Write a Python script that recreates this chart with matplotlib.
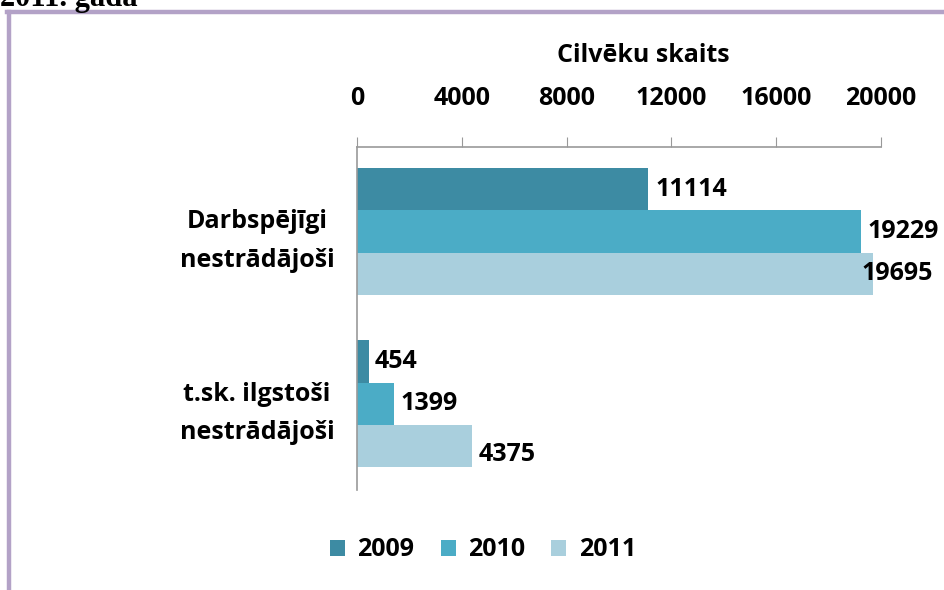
import matplotlib
matplotlib.use('Agg')
import matplotlib.pyplot as plt
from matplotlib.lines import Line2D
import numpy as np

#----------------------------
#          DATA
#----------------------------
categories = ['Darbspējīgi\nnestrādājoši', 't.sk. ilgstoši\nnestrādājoši']
years = ['2009', '2010', '2011']
v2009 = [11114, 454]
v2010 = [19229, 1399]
v2011 = [19695, 4375]
xticks = [0, 4000, 8000, 12000, 16000, 20000]

colors = ['#3d8ba3', '#4bacc6', '#a9cfdd']
# label offsets (points) for each series, per category
lab_dx = [[5, 4], [5, 5], [-8, 5]]
lab_dy = [[0, 0], [0, 0], [0, -6]]

plt.rcParams['font.family'] = ['Open Sans', 'DejaVu Sans']
plt.rcParams['font.weight'] = 'bold'
FS = 18

W, H = 944, 590
fig = plt.figure(figsize=(W/100, H/100), dpi=100)
ax = fig.add_axes([357/W, 1-490/H, (881-357)/W, (490-147)/H])

y = np.arange(len(categories))
h = 0.245
series = [v2009, v2010, v2011]
for i, vals in enumerate(series):
    pos = y + (i-1)*h
    ax.barh(pos, vals, height=h, color=colors[i], label=years[i])
    for j, v in enumerate(vals):
        ax.annotate(str(v), (v, pos[j]), xytext=(lab_dx[i][j], lab_dy[i][j]),
                    textcoords='offset points', ha='left', va='center',
                    fontsize=FS, fontweight='bold')

ax.set_xlim(0, 20000)
ax.set_ylim(1.5, -0.49)
ax.xaxis.tick_top()
ax.set_xticks(xticks)
ax.set_xticklabels([str(t) for t in xticks], fontsize=FS, fontweight='bold')
ax.tick_params(axis='x', direction='out', length=7, color='#999999', pad=19)
ax.set_yticks(y)
ax.set_yticklabels(categories, fontsize=FS, fontweight='bold', ha='center',
                   linespacing=1.7)
ax.tick_params(axis='y', length=0, pad=72)
for s in ['right', 'bottom']:
    ax.spines[s].set_visible(False)
for s in ['top', 'left']:
    ax.spines[s].set_color('#999999')
    ax.spines[s].set_linewidth(1.2)

fig.text(643/W, 1-55/H, 'Cilvēku skaits', ha='center', va='center',
         fontsize=FS, fontweight='bold')

ax.legend(loc='center', bbox_to_anchor=(483/W, 1-550/H),
          bbox_transform=fig.transFigure, ncol=3, frameon=False,
          fontsize=FS, handlelength=0.6, handleheight=0.6,
          handletextpad=0.5, columnspacing=1.05)

# document frame around the chart
fig.add_artist(Line2D([8.5/W, 8.5/W], [0, 1-12/H], color='#b3a2c7', lw=3.2,
                      transform=fig.transFigure))
fig.add_artist(Line2D([7/W, 1], [1-12/H, 1-12/H], color='#b3a2c7', lw=3.2,
                      transform=fig.transFigure))
fig.text(0, 1-6/H, '2011. gada', ha='left', va='baseline',
         fontsize=22, fontweight='bold', family='Liberation Serif')

plt.savefig('out.png', dpi=100)
